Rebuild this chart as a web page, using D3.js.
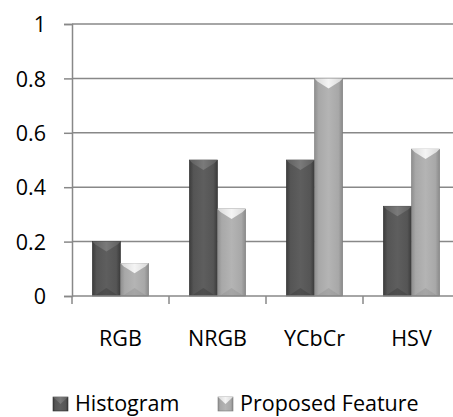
<!DOCTYPE html>
<html><head><meta charset="utf-8">
<script src="https://cdn.jsdelivr.net/npm/d3@7"></script>
<style>body{margin:0;background:#fff}svg{display:block}</style>
</head><body>
<svg id="c" width="453" height="417"></svg>
<script>
const categories = ["RGB", "NRGB", "YCbCr", "HSV"];
const seriesNames = ["Histogram", "Proposed Feature"];
const histogram = [0.2, 0.5, 0.5, 0.33];
const proposed = [0.12, 0.32, 0.8, 0.54];
const yTicks = [0, 0.2, 0.4, 0.6, 0.8, 1];
const yTickLabels = ["0", "0.2", "0.4", "0.6", "0.8", "1"];

const svg = d3.select("#c");
const font = "'Open Sans', sans-serif";
const fs = 21.5;
const x0 = d3.scaleBand().domain(categories).range([72, 460]).paddingInner(0.42).paddingOuter(0.21);
const x1 = d3.scaleBand().domain(seriesNames).range([0, x0.bandwidth()]);
const y = d3.scaleLinear().domain([0, 1]).range([296, 24]);
const outer = d3.scaleBand().domain(categories).range([72, 460]);

const defs = svg.append("defs");
function grad(id, stops){
  const g = defs.append("linearGradient").attr("id", id).attr("x1","0").attr("x2","1").attr("y1","0").attr("y2","0");
  stops.forEach(s => g.append("stop").attr("offset", s[0]).attr("stop-color", s[1]));
}
grad("dk", [[0,"#3c3c3c"],[0.15,"#555"],[0.5,"#5e5e5e"],[0.85,"#555"],[1,"#3a3a3a"]]);
grad("lt", [[0,"#8e8e8e"],[0.15,"#a8a8a8"],[0.5,"#b4b4b4"],[0.85,"#a8a8a8"],[1,"#8a8a8a"]]);
grad("dkTop", [[0,"#5e5e5e"],[0.5,"#7a7a7a"],[1,"#5e5e5e"]]);
grad("ltTop", [[0,"#d8d8d8"],[0.5,"#f4f4f4"],[1,"#d8d8d8"]]);

// gridlines
svg.append("g").selectAll("line").data(yTicks.filter(d => d > 0)).join("line")
  .attr("x1", 72).attr("x2", 460).attr("y1", d => y(d)).attr("y2", d => y(d))
  .attr("stroke", "#888").attr("stroke-width", 1.5);

// y axis
const yAxis = d3.axisLeft(y).tickValues(yTicks).tickSize(8).tickFormat((d,i) => yTickLabels[i]);
const ya = svg.append("g").attr("transform", "translate(72,0)").call(yAxis);
ya.select(".domain").attr("stroke", "#888").attr("stroke-width", 1.5);
ya.selectAll(".tick line").attr("stroke", "#888").attr("stroke-width", 1.5);
ya.selectAll(".tick text").attr("x", -26).attr("dy", "0.36em").attr("font-family", font).attr("font-size", fs).attr("fill", "#000");

// bars
const series = [histogram, proposed];
const fills = [["url(#dk)","url(#dkTop)","#333"],["url(#lt)","url(#ltTop)","#8c8c8c"]];
const g = svg.append("g");
series.forEach((vals, si) => {
  const gs = g.append("g");
  vals.forEach((v, ci) => {
    const bx = x0(categories[ci]) + x1(seriesNames[si]);
    const bw = x1.bandwidth();
    const top = y(v), bot = y(0);
    gs.append("rect").attr("x", bx).attr("y", top).attr("width", bw).attr("height", bot - top)
      .attr("fill", fills[si][0]).attr("stroke", si ? "#7a7a7a" : "#2e2e2e").attr("stroke-width", 0.6);
    const d = Math.min(10, (bot - top) / 2);
    gs.append("path").attr("d", `M${bx},${top}L${bx+bw},${top}L${bx+bw-3},${top+3}L${bx+bw/2},${top+d}L${bx+3},${top+3}Z`)
      .attr("fill", fills[si][1]);
    gs.append("path").attr("d", `M${bx+2},${bot}L${bx+bw-2},${bot}L${bx+bw/2},${bot-8}Z`)
      .attr("fill", fills[si][2]).attr("opacity", 0.35);
  });
});

// x axis
svg.append("line").attr("x1", 72).attr("x2", 460).attr("y1", y(0)).attr("y2", y(0)).attr("stroke", "#888").attr("stroke-width", 1.5);
svg.append("g").selectAll("line").data(categories).join("line")
  .attr("x1", d => outer(d)).attr("x2", d => outer(d)).attr("y1", y(0)).attr("y2", y(0) + 8)
  .attr("stroke", "#888").attr("stroke-width", 1.5);
svg.append("g").selectAll("text").data(categories).join("text")
  .attr("x", d => x0(d) + x0.bandwidth()/2).attr("y", 346)
  .attr("text-anchor", "middle").attr("font-family", font).attr("font-size", fs).text(d => d);

// legend
const legX = [53, 218];
const leg = svg.append("g");
seriesNames.forEach((n, i) => {
  const lx = legX[i];
  leg.append("rect").attr("x", lx).attr("y", 397).attr("width", 15).attr("height", 14)
    .attr("fill", fills[i][0]).attr("stroke", i ? "#7a7a7a" : "#2e2e2e").attr("stroke-width", 0.6);
  leg.append("path").attr("d", `M${lx},397L${lx+15},397L${lx+7.5},404Z`).attr("fill", fills[i][1]);
  leg.append("text").attr("x", lx + 22).attr("y", 411).attr("font-family", font).attr("font-size", fs).text(n);
});
</script>
</body></html>
